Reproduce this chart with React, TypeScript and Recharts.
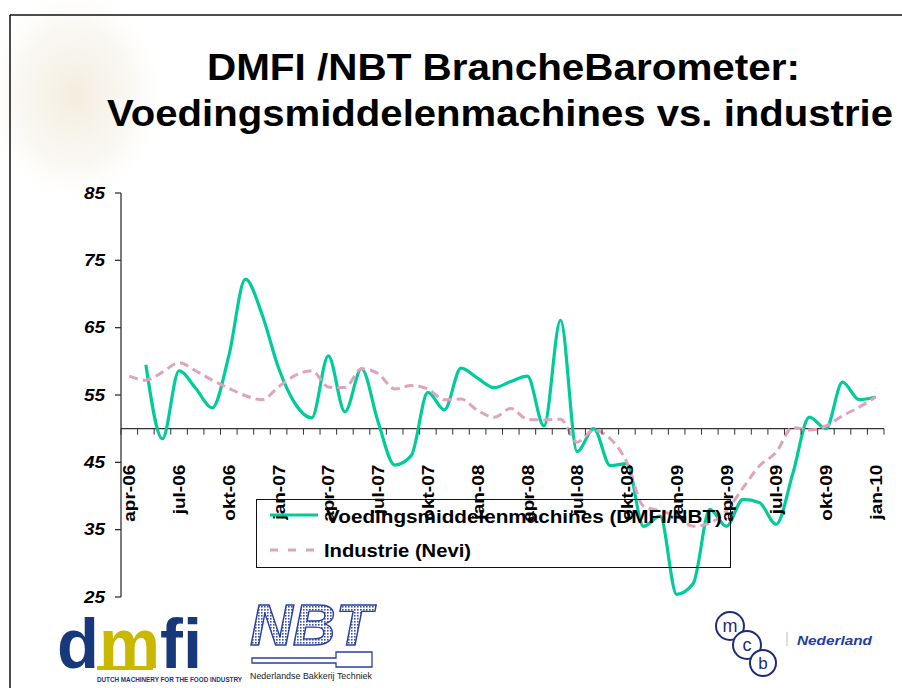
import { Legend, Line, LineChart, ReferenceLine, XAxis, YAxis } from 'recharts';

const months = [
  'apr-06', 'mei-06', 'jun-06', 'jul-06', 'aug-06', 'sep-06', 'okt-06', 'nov-06', 'dec-06',
  'jan-07', 'feb-07', 'mrt-07', 'apr-07', 'mei-07', 'jun-07', 'jul-07', 'aug-07', 'sep-07', 'okt-07', 'nov-07', 'dec-07',
  'jan-08', 'feb-08', 'mrt-08', 'apr-08', 'mei-08', 'jun-08', 'jul-08', 'aug-08', 'sep-08', 'okt-08', 'nov-08', 'dec-08',
  'jan-09', 'feb-09', 'mrt-09', 'apr-09', 'mei-09', 'jun-09', 'jul-09', 'aug-09', 'sep-09', 'okt-09', 'nov-09', 'dec-09',
  'jan-10',
];

// Voedingsmiddelenmachines (DMFI/NBT)
const machines = [
  null, 59.5, 48.5, 58.6, 56, 53.1, 60.8, 72.2, 67, 59,
  53.7, 51.6, 60.8, 52.5, 58.9, 51, 44.6, 46, 55.4, 52.8, 59,
  57.5, 56.1, 57, 57.8, 50.4, 66.1, 46.6, 50, 44.5, 44.8, 35.5, 37,
  25.4, 27, 38, 35.5, 39.5, 39, 35.8, 43.3, 51.7, 50, 56.9, 54.3,
  54.7,
];

// Industrie (Nevi)
const industry = [
  57.8, 57.2, 58.4, 59.8, 58.6, 57.2, 56, 54.9, 54.3,
  56.2, 57.9, 58.6, 56.2, 56.1, 58.9, 58.2, 55.9, 56.4, 55.9, 54.3, 54.4,
  52.7, 51.7, 53, 51.4, 51.3, 51.4, 48, 49.8, 48.5, 45, 38.5, 37.8,
  37, 35.5, 36, 37.8, 41.2, 44.5, 46.5, 50.2, 49.8, 50.4, 51.9, 53.2,
  54.7,
];

const yTicks = [25, 35, 45, 55, 65, 75, 85];

const data = months.map((m, i) => ({ month: m, machines: machines[i], industry: industry[i] }));

const FONT = "'Liberation Sans', Arial, Helvetica, sans-serif";
const GREEN = '#00CC99';
const PINK = '#E0A3BC';
const AXIS = '#333';
const NAVY = '#17387a';

const W = 902;
const H = 688;
const PLOT_LEFT = 121;
const PLOT_RIGHT = 884;
const PLOT_TOP = 193;
const PLOT_BOTTOM = 597;
const Y_MIN = 25;
const Y_MAX = 85;
const CROSS = 50;
const STEP = (PLOT_RIGHT - PLOT_LEFT) / months.length;
const CROSS_Y = PLOT_TOP + ((Y_MAX - CROSS) / (Y_MAX - Y_MIN)) * (PLOT_BOTTOM - PLOT_TOP);

function MonthTick({ x, index, payload }: any) {
  const last = index === months.length - 1;
  return (
    <g>
      <line x1={x - STEP / 2} x2={x - STEP / 2} y1={CROSS_Y} y2={CROSS_Y + 6} stroke={AXIS} />
      {last && <line x1={x + STEP / 2} x2={x + STEP / 2} y1={CROSS_Y} y2={CROSS_Y + 6} stroke={AXIS} />}
      {index % 3 === 0 && (
        <text
          transform={`translate(${x},${CROSS_Y + 36}) rotate(-90) scale(1.12,1)`}
          textAnchor="end"
          dy="0.36em"
          fontFamily={FONT}
          fontWeight="bold"
          fontSize={17}
          fill="#000"
        >
          {payload.value}
        </text>
      )}
    </g>
  );
}

function ValueTick({ x, y, payload }: any) {
  return (
    <text
      x={x}
      y={y}
      dy="0.36em"
      textAnchor="end"
      fontFamily={FONT}
      fontWeight="bold"
      fontStyle="italic"
      fontSize={16}
      textLength={21}
      lengthAdjust="spacingAndGlyphs"
      fill="#000"
    >
      {payload.value}
    </text>
  );
}

function LegendBox() {
  return (
    <svg width={475} height={69} style={{ display: 'block', overflow: 'visible' }}>
      <rect x={0.5} y={0.5} width={474} height={68} fill="none" stroke="#111" />
      <line x1={14} x2={62} y1={16} y2={16} stroke={GREEN} strokeWidth={3} />
      <text x={70} y={24} fontFamily={FONT} fontWeight="bold" fontSize={18.5} textLength={396} lengthAdjust="spacingAndGlyphs">
        Voedingsmiddelenmachines (DMFI/NBT)
      </text>
      <line x1={14} x2={58} y1={51} y2={51} stroke={PINK} strokeWidth={3} strokeDasharray="8 10" />
      <text x={68} y={58} fontFamily={FONT} fontWeight="bold" fontSize={18.5} textLength={147} lengthAdjust="spacingAndGlyphs">
        Industrie (Nevi)
      </text>
    </svg>
  );
}

function Slide() {
  return (
    <svg width={W} height={H} style={{ position: 'absolute', left: 0, top: 0 }}>
      <defs>
        <radialGradient id="photo" cx="0.5" cy="0.5" r="0.5">
          <stop offset="0" stopColor="rgb(220,205,160)" stopOpacity={0.35} />
          <stop offset="0.6" stopColor="rgb(225,215,185)" stopOpacity={0.18} />
          <stop offset="1" stopColor="#fff" stopOpacity={0} />
        </radialGradient>
        <pattern id="hatch" width={3} height={3} patternUnits="userSpaceOnUse">
          <rect width={3} height={3} fill="#fff" />
          <rect width={1.6} height={1.6} fill="#3a4fb0" />
        </pattern>
      </defs>
      <ellipse cx={75} cy={95} rx={95} ry={115} fill="url(#photo)" />
      <line x1={10} y1={15} x2={W} y2={15} stroke="#111" strokeWidth={1.5} />
      <line x1={10} y1={15} x2={10} y2={H} stroke="#111" strokeWidth={1.5} />

      <text x={207} y={80} fontFamily={FONT} fontWeight="bold" fontSize={37.5} textLength={593} lengthAdjust="spacingAndGlyphs">
        DMFI /NBT BrancheBarometer:
      </text>
      <text x={107} y={126} fontFamily={FONT} fontWeight="bold" fontSize={37.5} textLength={786} lengthAdjust="spacingAndGlyphs">
        Voedingsmiddelenmachines vs. industrie
      </text>

      {/* dmfi logo */}
      <rect x={97} y={666} width={56} height={4} fill="#c9b800" />
      <text x={57} y={668} fontFamily={FONT} fontWeight="bold" fontSize={70} textLength={145} lengthAdjust="spacingAndGlyphs">
        <tspan fill={NAVY}>d</tspan>
        <tspan fill="#c9b800">m</tspan>
        <tspan fill={NAVY}>fi</tspan>
      </text>
      <text x={97} y={682} fontFamily={FONT} fontWeight="bold" fontSize={6.5} fill={NAVY} textLength={145} lengthAdjust="spacingAndGlyphs">
        DUTCH MACHINERY FOR THE FOOD INDUSTRY
      </text>

      {/* NBT logo */}
      <text x={250} y={645} fontFamily={FONT} fontWeight="bold" fontStyle="italic" fontSize={58} fill="url(#hatch)" stroke="#2a3f9f" strokeWidth={1.4} textLength={122} lengthAdjust="spacingAndGlyphs">
        NBT
      </text>
      <path d="M252 658 H336 V652 H372 V667 H336 V663 H252 Z" fill="#fff" stroke="#2a3f9f" strokeWidth={1.3} />
      <text x={250} y={679} fontFamily={FONT} fontSize={9} fill="#222" textLength={122} lengthAdjust="spacingAndGlyphs">
        Nederlandse Bakkerij Techniek
      </text>

      {/* MCB logo */}
      <circle cx={730} cy={626} r={14} fill="#fff" stroke="#1f2a7a" strokeWidth={2} />
      <circle cx={747} cy={645} r={14} fill="#fff" stroke="#1f2a7a" strokeWidth={2} />
      <circle cx={763} cy={663} r={13} fill="#fff" stroke="#1f2a7a" strokeWidth={2} />
      <text x={730} y={632} textAnchor="middle" fontFamily={FONT} fontSize={18} fill="#1f2a7a">m</text>
      <text x={747} y={651} textAnchor="middle" fontFamily={FONT} fontSize={18} fill="#1f2a7a">c</text>
      <text x={763} y={669} textAnchor="middle" fontFamily={FONT} fontSize={17} fill="#1f2a7a">b</text>
      <line x1={787} y1={632} x2={787} y2={646} stroke="#bbb" strokeWidth={1} />
      <text x={797} y={645} fontFamily={FONT} fontWeight="bold" fontStyle="italic" fontSize={12.5} fill="#1f3fa0" textLength={75} lengthAdjust="spacingAndGlyphs">
        Nederland
      </text>
    </svg>
  );
}

export default function App() {
  return (
    <div style={{ position: 'absolute', left: 0, top: 0, width: W, height: H, background: '#fff', overflow: 'hidden' }}>
      <Slide />
      <div style={{ position: 'absolute', left: 0, top: 0 }}>
        <LineChart
          width={W}
          height={H}
          data={data}
          margin={{ top: PLOT_TOP, right: W - PLOT_RIGHT, bottom: 61, left: 0 }}
        >
          <XAxis
            dataKey="month"
            height={H - PLOT_BOTTOM - 61}
            interval={0}
            axisLine={false}
            tickLine={false}
            padding={{ left: STEP / 2, right: STEP / 2 }}
            tick={(props: any) => <MonthTick {...props} />}
          />
          <YAxis
            width={PLOT_LEFT}
            domain={[Y_MIN, Y_MAX]}
            ticks={yTicks}
            interval={0}
            axisLine={{ stroke: AXIS, strokeWidth: 1.3 }}
            tickLine={{ stroke: AXIS, strokeWidth: 1.3 }}
            tickSize={6}
            tickMargin={10}
            tick={(props: any) => <ValueTick {...props} />}
          />
          <ReferenceLine y={CROSS} stroke={AXIS} strokeWidth={1.3} />
          <Legend
            layout="vertical"
            align="center"
            verticalAlign="middle"
            content={() => <LegendBox />}
            wrapperStyle={{ position: 'absolute', left: 256, top: 499, width: 475, height: 69 }}
          />
          <Line
            type="monotone"
            dataKey="machines"
            name="Voedingsmiddelenmachines (DMFI/NBT)"
            stroke={GREEN}
            strokeWidth={3.2}
            dot={false}
            activeDot={false}
            isAnimationActive={false}
          />
          <Line
            type="monotone"
            dataKey="industry"
            name="Industrie (Nevi)"
            stroke={PINK}
            strokeWidth={3}
            strokeDasharray="9 5"
            dot={false}
            activeDot={false}
            isAnimationActive={false}
          />
        </LineChart>
      </div>
    </div>
  );
}
